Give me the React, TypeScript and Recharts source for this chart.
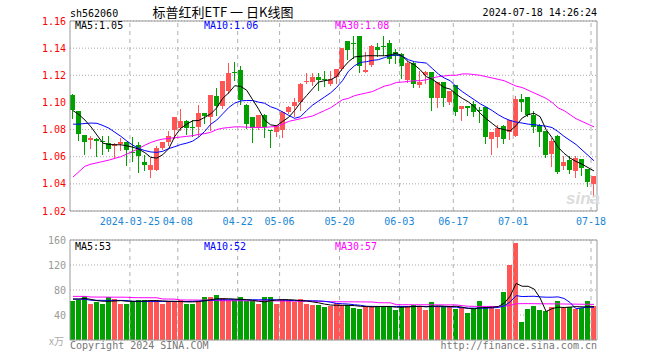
import { ComposedChart, Bar, Line, XAxis, YAxis, CartesianGrid, ReferenceLine } from 'recharts';

const RED = '#ff5555';
const GREEN = '#00a000';
const MONO = '"DejaVu Sans Mono", "Liberation Mono", monospace';

const DATES = [
  '03-11', '03-12', '03-13', '03-14', '03-15', '03-18', '03-19', '03-20', '03-21', '03-22',
  '03-25', '03-26', '03-27', '03-28', '03-29', '04-01', '04-02', '04-03', '04-08', '04-09',
  '04-10', '04-11', '04-12', '04-15', '04-16', '04-17', '04-18', '04-19', '04-22', '04-23',
  '04-24', '04-25', '04-26', '04-29', '04-30', '05-06', '05-07', '05-08', '05-09', '05-10',
  '05-13', '05-14', '05-15', '05-16', '05-17', '05-20', '05-21', '05-22', '05-23', '05-24',
  '05-27', '05-28', '05-29', '05-30', '05-31', '06-03', '06-04', '06-05', '06-06', '06-07',
  '06-11', '06-12', '06-13', '06-14', '06-17', '06-18', '06-19', '06-20', '06-21', '06-24',
  '06-25', '06-26', '06-27', '06-28', '07-01', '07-02', '07-03', '07-04', '07-05', '07-08',
  '07-09', '07-10', '07-11', '07-12', '07-15', '07-16', '07-17', '07-18',
];

const OPEN = [
  1.1056, 1.0939, 1.0762, 1.0725, 1.0733, 1.0713, 1.07, 1.0676, 1.0696, 1.071,
  1.0636, 1.0688, 1.0563, 1.0504, 1.0504, 1.0664, 1.0705, 1.0799, 1.0811, 1.0865,
  1.0818, 1.0816, 1.0921, 1.0892, 1.1049, 1.0975, 1.1081, 1.1221, 1.124, 1.0983,
  1.0892, 1.0811, 1.0909, 1.0796, 1.0779, 1.0799, 1.0926, 1.0971, 1.1, 1.115,
  1.1147, 1.1191, 1.1169, 1.1137, 1.1184, 1.1245, 1.1454, 1.1438, 1.1486, 1.1221,
  1.1277, 1.1412, 1.1418, 1.1437, 1.1368, 1.1358, 1.1167, 1.1294, 1.113, 1.1204,
  1.1221, 1.1032, 1.1147, 1.1, 1.113, 1.0951, 1.0975, 1.099, 1.0943, 1.0966,
  1.0733, 1.0745, 1.0823, 1.0779, 1.0755, 1.1027, 1.1037, 1.0909, 1.0836, 1.0786,
  1.0617, 1.0755, 1.0534, 1.0573, 1.0492, 1.0583, 1.0509, 1.0401,
];
const HIGH = [
  1.106, 1.0939, 1.0762, 1.0755, 1.0738, 1.075, 1.0755, 1.0701, 1.0737, 1.071,
  1.0745, 1.0705, 1.0615, 1.059, 1.0676, 1.0705, 1.0786, 1.0892, 1.0953, 1.0872,
  1.0872, 1.0983, 1.0925, 1.1056, 1.1106, 1.116, 1.129, 1.1297, 1.1265, 1.0985,
  1.0895, 1.0909, 1.0912, 1.0799, 1.0836, 1.0934, 1.097, 1.1032, 1.1142, 1.1216,
  1.122, 1.122, 1.1228, 1.1228, 1.1245, 1.14, 1.1454, 1.1486, 1.1486, 1.1375,
  1.1425, 1.1437, 1.1491, 1.1461, 1.139, 1.1363, 1.1302, 1.1296, 1.1228, 1.1228,
  1.1224, 1.1147, 1.115, 1.1086, 1.1132, 1.0975, 1.0977, 1.1007, 1.0966, 1.0968,
  1.0779, 1.0836, 1.0836, 1.0867, 1.1049, 1.1061, 1.1039, 1.0939, 1.084, 1.0788,
  1.0737, 1.0757, 1.0602, 1.0602, 1.0602, 1.0585, 1.0511, 1.0455,
];
const LOW = [
  1.0885, 1.0725, 1.0622, 1.0664, 1.0607, 1.0622, 1.0639, 1.059, 1.0647, 1.0541,
  1.0566, 1.0485, 1.05, 1.0448, 1.05, 1.066, 1.0688, 1.0737, 1.0799, 1.0769,
  1.0755, 1.0755, 1.0848, 1.08, 1.0909, 1.0958, 1.1069, 1.1167, 1.099, 1.0811,
  1.0705, 1.0804, 1.0745, 1.0671, 1.0755, 1.0745, 1.092, 1.0902, 1.0946, 1.1142,
  1.113, 1.1093, 1.1118, 1.113, 1.1142, 1.1242, 1.1319, 1.1326, 1.1221, 1.1221,
  1.127, 1.1339, 1.1351, 1.129, 1.129, 1.1179, 1.1147, 1.1113, 1.1113, 1.1142,
  1.0946, 1.0966, 1.097, 1.099, 1.0909, 1.0867, 1.0909, 1.0902, 1.0853, 1.07,
  1.0622, 1.0671, 1.07, 1.073, 1.075, 1.0934, 1.0902, 1.0779, 1.0676, 1.0598,
  1.0529, 1.048, 1.0509, 1.048, 1.045, 1.0467, 1.0387, 1.0308,
];
const CLOSE = [
  1.0946, 1.0767, 1.0706, 1.0735, 1.0713, 1.0705, 1.0656, 1.0691, 1.0705, 1.0647,
  1.0632, 1.0602, 1.0541, 1.0541, 1.0664, 1.0705, 1.0755, 1.0892, 1.0865, 1.0811,
  1.0814, 1.0921, 1.0897, 1.1056, 1.0975, 1.116, 1.1216, 1.1218, 1.102, 1.0843,
  1.0811, 1.0909, 1.0816, 1.0794, 1.0823, 1.0926, 1.0966, 1.1, 1.1137, 1.116,
  1.1191, 1.1167, 1.1166, 1.1172, 1.1245, 1.14, 1.1388, 1.1435, 1.1265, 1.124,
  1.1417, 1.1383, 1.1415, 1.1321, 1.1339, 1.1265, 1.1294, 1.1137, 1.1147, 1.1221,
  1.1032, 1.1147, 1.1032, 1.1086, 1.0926, 1.0975, 1.0956, 1.0926, 1.0941, 1.0745,
  1.0779, 1.0811, 1.073, 1.0867, 1.1027, 1.1, 1.0909, 1.0816, 1.0779, 1.0615,
  1.0713, 1.0485, 1.0563, 1.0504, 1.059, 1.0517, 1.0411, 1.0455,
];

const MA5 = [
  1.094, 1.091, 1.087, 1.082, 1.076, 1.07, 1.069, 1.0688, 1.0688, 1.068,
  1.067, 1.0655, 1.063, 1.0595, 1.059, 1.0615, 1.066, 1.075, 1.081, 1.084,
  1.0865, 1.0867, 1.089, 1.0915, 1.096, 1.103, 1.107, 1.1123, 1.1118, 1.109,
  1.102, 1.095, 1.087, 1.0835, 1.0828, 1.086, 1.089, 1.094, 1.1, 1.105,
  1.11, 1.115, 1.116, 1.1167, 1.119, 1.125, 1.13, 1.1335, 1.134, 1.1344,
  1.1344, 1.1344, 1.1344, 1.135, 1.1363, 1.134, 1.13, 1.1277, 1.124, 1.119,
  1.117, 1.114, 1.111, 1.1098, 1.106, 1.103, 1.1005, 1.097, 1.092, 1.088,
  1.0845, 1.081, 1.08, 1.079, 1.083, 1.0885, 1.091, 1.092, 1.0895, 1.08,
  1.074, 1.067, 1.0625, 1.059, 1.0565, 1.0545, 1.052, 1.0495,
];
const MA10 = [
  1.084, 1.084, 1.0845, 1.0848, 1.0846, 1.083, 1.081, 1.078, 1.075, 1.0715,
  1.0685, 1.066, 1.0645, 1.0635, 1.0632, 1.064, 1.066, 1.0674, 1.069, 1.07,
  1.0715, 1.0745, 1.0787, 1.0839, 1.087, 1.0916, 1.0962, 1.0995, 1.1011, 1.1014,
  1.1014, 1.1002, 1.0994, 1.0968, 1.0953, 1.093, 1.0905, 1.0883, 1.0895, 1.094,
  1.098, 1.101, 1.104, 1.107, 1.111, 1.116, 1.123, 1.127, 1.1295, 1.13,
  1.131, 1.1315, 1.133, 1.1345, 1.135, 1.134, 1.1315, 1.13, 1.1295, 1.129,
  1.125, 1.121, 1.118, 1.116, 1.1115, 1.108, 1.105, 1.102, 1.099, 1.0966,
  1.094, 1.091, 1.0885, 1.0867, 1.0855, 1.0848, 1.084, 1.0836, 1.083, 1.0825,
  1.0815, 1.0785, 1.075, 1.072, 1.069, 1.065, 1.061, 1.057,
];
const MA30 = [
  1.045, 1.049, 1.053, 1.0545, 1.0555, 1.0565, 1.0575, 1.0588, 1.06, 1.062,
  1.064, 1.066, 1.0685, 1.0705, 1.072, 1.073, 1.0735, 1.074, 1.0745, 1.075,
  1.0755, 1.0765, 1.077, 1.078, 1.08, 1.081, 1.0815, 1.082, 1.082, 1.0818,
  1.0816, 1.0816, 1.0816, 1.082, 1.0823, 1.084, 1.086, 1.087, 1.088, 1.089,
  1.09, 1.092, 1.094, 1.096, 1.099, 1.102, 1.103, 1.105, 1.106, 1.107,
  1.108, 1.11, 1.112, 1.113, 1.1147, 1.115, 1.1155, 1.116, 1.116, 1.1167,
  1.118, 1.119, 1.1195, 1.12, 1.12, 1.121, 1.121, 1.1205, 1.12, 1.119,
  1.118, 1.117, 1.116, 1.114, 1.112, 1.111, 1.109, 1.107, 1.105, 1.103,
  1.1, 1.096, 1.094, 1.091, 1.088, 1.086, 1.084, 1.082,
];

// 成交量 (万)
const VOLUME = [
  61.7, 63.4, 69.8, 58, 60.1, 58, 68.2, 66, 58, 58,
  61.7, 64.4, 64.4, 63.4, 63.4, 58, 61.7, 61.7, 63.4, 58,
  58, 61.7, 68.2, 68.2, 72.5, 67.1, 64.4, 64.4, 68.2, 61.7,
  61.7, 58, 68.2, 68.2, 58, 66, 64.4, 60.1, 66, 58,
  56.4, 56.4, 52.1, 53.7, 59.1, 56.4, 56.4, 51, 49.4, 53.7,
  53.7, 53.7, 53.7, 53.7, 48.3, 54.8, 53.7, 56.4, 53.7, 48.3,
  60.1, 53.7, 53.7, 53.7, 49.9, 52.6, 44, 49.9, 62.8, 52.6,
  52.6, 49.9, 76.2, 119.7, 154.6, 29.5, 49.9, 53.7, 48.3, 46.7,
  52.1, 61.7, 51, 52.1, 49.9, 51, 61.7, 54.8,
];
const VMA5 = [
  65.5, 65.5, 66.5, 65, 63, 62, 62, 62.5, 63, 62,
  62, 62, 62.5, 63, 63, 62.5, 62, 62, 61.5, 61,
  61, 61.5, 63, 64.5, 66, 66, 66, 65.5, 65, 64.5,
  63.5, 62, 61, 63, 64, 64.5, 64.5, 64, 63, 62.5,
  61, 59.5, 57.5, 56, 55.5, 55.5, 55.5, 55, 54, 53.5,
  53, 53.5, 53.5, 53.5, 52.5, 52.5, 53, 53.5, 54, 53,
  54, 54.5, 54, 53.5, 54, 52.5, 50.5, 50, 51.5, 52,
  52.5, 53.5, 58.8, 70.2, 90.6, 86, 86, 81.5, 67.2, 45.6,
  50.1, 52.5, 52, 52.7, 53.4, 53.1, 53.1, 53.4,
];
const VMA10 = [
  65.5, 65.3, 65.2, 63.6, 63.5, 63.4, 63.4, 63.4, 63.3, 63.2,
  61.8, 61.7, 61.7, 61.7, 61.7, 61.7, 61.7, 61.6, 61.6, 61.6,
  61.8, 62.3, 62.8, 63.4, 64.4, 64.4, 64.5, 64.5, 64.5, 64.4,
  64.4, 64.4, 64.4, 64.4, 64.2, 64, 63.5, 63, 62.9, 62.8,
  62.8, 62.6, 62, 60.5, 58.5, 58, 57.5, 56.4, 55.5, 54,
  53.8, 53.7, 53.7, 53.7, 53.7, 53.7, 53.7, 53.7, 53.7, 53.6,
  53.5, 53.4, 53.2, 53, 52.5, 51.5, 51, 51, 51, 51,
  51.5, 52, 54.5, 61, 71, 69.5, 69.8, 70, 69, 68.5,
  68.5, 69, 66.5, 60, 50, 51.5, 52.5, 52.5,
];
const VMA30 = [
  69.8, 69.8, 69.8, 68.8, 68.7, 68.7, 68.6, 68.5, 68.5, 68.4,
  67.8, 67.7, 67.7, 67.6, 67.6, 65.6, 65.5, 65.4, 64.1, 64,
  64, 63.9, 63.9, 63.8, 63, 62.9, 62.9, 62.8, 62.8, 62.8,
  62.7, 62.7, 62.6, 62.6, 62.5, 62.4, 62.3, 62.2, 62.1, 62,
  61.9, 61.8, 61.6, 61.3, 61.2, 61.2, 61.1, 61.1, 61, 60.9,
  60.8, 59.7, 59.6, 59.5, 56.6, 56.5, 56.5, 56.4, 56.4, 56.4,
  56.3, 56.3, 56.2, 56.2, 56.1, 55, 54, 53.8, 53.8, 53.7,
  53.7, 53.6, 54, 55.5, 58, 58.2, 58.2, 58.1, 58, 57.9,
  57.8, 57.8, 57.6, 57.5, 57.4, 57.2, 57.2, 57,
];

const PRICE_TICKS = [1.02, 1.04, 1.06, 1.08, 1.1, 1.12, 1.14, 1.16];
const VOL_TICKS = [40, 80, 120, 160];
const DATE_TICKS = ['03-25', '04-08', '04-22', '05-06', '05-20', '06-03', '06-17', '07-01', '07-18'];
const DATE_TICK_LABELS = ['2024-03-25', '04-08', '04-22', '05-06', '05-20', '06-03', '06-17', '07-01', '07-18'];

const rows = DATES.map((date, i) => ({
  date,
  open: OPEN[i],
  high: HIGH[i],
  low: LOW[i],
  close: CLOSE[i],
  range: [LOW[i], HIGH[i]],
  ma5: MA5[i],
  ma10: MA10[i],
  ma30: MA30[i],
  volume: VOLUME[i],
  vma5: VMA5[i],
  vma10: VMA10[i],
  vma30: VMA30[i],
}));

const LAST = DATES[DATES.length - 1];

function Candle(props: any) {
  const { x, y, width, height, payload } = props;
  if (x == null || y == null || !payload) return null;
  const top = Math.min(y, y + height);
  const h = Math.abs(height);
  const span = payload.high - payload.low;
  const py = (v: number) => (span > 0 ? top + ((payload.high - v) / span) * h : top);
  const color = payload.close >= payload.open ? RED : GREEN;
  const left = Math.round(x + width / 2 - 2.5);
  const cx = left + 2.5;
  const yo = py(payload.open);
  const yc = py(payload.close);
  const bTop = Math.round(Math.min(yo, yc));
  const bH = Math.max(1, Math.round(Math.max(yo, yc)) - bTop);
  return (
    <g shapeRendering="crispEdges">
      <line x1={cx} x2={cx} y1={Math.round(top)} y2={Math.round(top + h) + 1} stroke={color} />
      <rect x={left} y={bTop} width={5} height={bH} fill={color} />
    </g>
  );
}

function VolBar(props: any) {
  const { x, y, width, height, payload } = props;
  if (x == null || y == null || !payload) return null;
  const color = payload.close >= payload.open ? RED : GREEN;
  const left = Math.round(x + width / 2 - 2.5);
  const top = Math.round(y);
  return (
    <rect
      x={left}
      y={top}
      width={5}
      height={Math.max(0, Math.round(y + height) - top)}
      fill={color}
      shapeRendering="crispEdges"
    />
  );
}

function DateTick(props: any) {
  const { x, y, payload } = props;
  const idx = DATE_TICKS.indexOf(payload.value);
  return (
    <text x={x - 3} y={y} dy="0.71em" textAnchor="middle" fill="#1a86d6" fontSize={10} fontFamily={MONO}>
      {idx >= 0 ? DATE_TICK_LABELS[idx] : payload.value}
    </text>
  );
}

export default function App() {
  return (
    <div
      style={{
        position: 'absolute',
        left: 0,
        top: 0,
        width: 660,
        height: 360,
        background: '#fff',
        overflow: 'hidden',
      }}
    >
      <div style={{ position: 'absolute', left: 0, top: 0 }}>
        <ComposedChart width={660} height={232} data={rows} margin={{ top: 21, right: 63, bottom: 0, left: 0 }}>
          <CartesianGrid vertical={false} stroke="#aaa" strokeDasharray="1 2" />
          {DATE_TICKS.map((d) => (
            <ReferenceLine key={d} x={d} position="start" stroke="#b0b0b0" strokeDasharray="4 4" />
          ))}
          <ReferenceLine y={1.16} stroke="#999" />
          <ReferenceLine x={LAST} position="end" stroke="#999" />
          <XAxis
            dataKey="date"
            ticks={DATE_TICKS}
            interval={0}
            tick={<DateTick />}
            tickLine={false}
            tickSize={0}
            tickMargin={7}
            height={21}
            axisLine={{ stroke: '#999' }}
          />
          <YAxis
            domain={[1.02, 1.16]}
            ticks={PRICE_TICKS}
            allowDataOverflow
            width={70}
            tickLine={false}
            tickSize={0}
            tickMargin={4}
            axisLine={{ stroke: '#999' }}
            tickFormatter={(v: number) => v.toFixed(2)}
            tick={{ fill: '#ff0000', fontSize: 10, fontFamily: MONO }}
          />
          <Bar dataKey="range" barSize={5} shape={<Candle />} isAnimationActive={false} />
          <Line dataKey="ma30" stroke="#ff00ff" strokeWidth={1} dot={false} isAnimationActive={false} />
          <Line dataKey="ma10" stroke="#0000ff" strokeWidth={1} dot={false} isAnimationActive={false} />
          <Line dataKey="ma5" stroke="#000000" strokeWidth={1} dot={false} isAnimationActive={false} />
        </ComposedChart>
      </div>

      <div style={{ position: 'absolute', left: 0, top: 228 }}>
        <ComposedChart width={660} height={130} data={rows} margin={{ top: 12, right: 63, bottom: 17, left: 0 }}>
          <CartesianGrid vertical={false} stroke="#aaa" strokeDasharray="1 2" />
          {DATE_TICKS.map((d) => (
            <ReferenceLine key={d} x={d} position="start" stroke="#b0b0b0" strokeDasharray="4 4" />
          ))}
          <ReferenceLine y={160} stroke="#999" />
          <ReferenceLine x={LAST} position="end" stroke="#999" />
          <XAxis dataKey="date" tick={false} tickLine={false} height={1} axisLine={{ stroke: '#999' }} />
          <YAxis
            domain={[0, 160]}
            ticks={VOL_TICKS}
            allowDataOverflow
            width={70}
            tickLine={false}
            tickSize={0}
            tickMargin={4}
            axisLine={{ stroke: '#999' }}
            tick={{ fill: '#999', fontSize: 10, fontFamily: MONO }}
          />
          <Bar dataKey="volume" barSize={5} shape={<VolBar />} isAnimationActive={false} />
          <Line dataKey="vma30" stroke="#ff00ff" strokeWidth={1} dot={false} isAnimationActive={false} />
          <Line dataKey="vma10" stroke="#0000ff" strokeWidth={1} dot={false} isAnimationActive={false} />
          <Line dataKey="vma5" stroke="#000000" strokeWidth={1} dot={false} isAnimationActive={false} />
        </ComposedChart>
      </div>

      <svg
        width={660}
        height={360}
        style={{ position: 'absolute', left: 0, top: 0, pointerEvents: 'none' }}
        fontFamily={MONO}
        fontSize={10}
      >
        <text x={70} y={17} fill="#000">sh562060</text>
        <text x={223} y={16.5} textAnchor="middle" fill="#000" fontSize={13} fontFamily='"Noto Sans CJK SC", sans-serif'>
          标普红利ETF 一 日K线图
        </text>
        <text x={597} y={16} textAnchor="end" fill="#000">2024-07-18 14:26:24</text>

        <text x={75} y={29} fill="#000">MA5:1.05</text>
        <text x={204} y={29} fill="#0000ff">MA10:1.06</text>
        <text x={335} y={29} fill="#ff00ff">MA30:1.08</text>

        <text x={75} y={250} fill="#000">MA5:53</text>
        <text x={204} y={250} fill="#0000ff">MA10:52</text>
        <text x={335} y={250} fill="#ff00ff">MA30:57</text>

        <text x={64} y={345} textAnchor="end" fill="#aaa" fontFamily='"Noto Sans CJK SC", sans-serif'>x万</text>
        <text x={70} y={349} fill="#777">Copyright 2024 SINA.COM</text>
        <text x={597} y={349} textAnchor="end" fill="#777">http://finance.sina.com.cn</text>

        <text x={566} y={204} fill="#dcdcdc" fontSize={17} fontStyle="italic" fontWeight="bold" fontFamily="Arial, sans-serif">
          sina
        </text>
      </svg>
    </div>
  );
}
